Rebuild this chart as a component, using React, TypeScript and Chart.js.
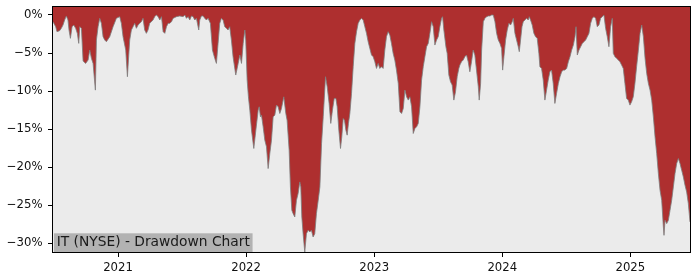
import React, { useEffect, useRef } from "react";
import { Chart, registerables } from "chart.js";

Chart.register(...registerables);

// Drawdown series: [decimal year, drawdown %]
const drawdownSeries: [number, number][] = [
  [2020.492,-0.88],[2020.513,-1.54],[2020.523,-2.19],[2020.544,-2.06],[2020.557,-1.75],[2020.570,-1.32],[2020.583,-0.66],[2020.596,-0.13],[2020.609,-0.66],[2020.617,-1.97],[2020.628,-3.07],[2020.641,-1.54],[2020.654,-1.32],[2020.669,-1.75],[2020.682,-2.41],[2020.693,-3.73],[2020.701,-1.54],[2020.714,-1.75],[2020.727,-6.05],[2020.747,-6.36],[2020.766,-5.92],[2020.779,-4.61],[2020.792,-5.70],[2020.805,-6.36],[2020.823,-9.87],[2020.831,-3.29],[2020.844,-1.54],[2020.857,-0.44],[2020.870,-1.10],[2020.883,-2.85],[2020.896,-3.29],[2020.909,-3.51],[2020.935,-2.85],[2020.961,-1.54],[2020.987,-0.44],
  [2021.013,-0.22],[2021.026,-1.10],[2021.039,-2.85],[2021.060,-4.61],[2021.073,-8.11],[2021.081,-5.92],[2021.091,-3.29],[2021.104,-1.97],[2021.117,-1.54],[2021.130,-1.10],[2021.143,-1.75],[2021.156,-1.32],[2021.169,-1.10],[2021.182,-0.88],[2021.195,-0.44],[2021.208,-1.97],[2021.221,-2.41],[2021.234,-1.97],[2021.247,-1.10],[2021.273,-0.66],[2021.286,-0.22],[2021.299,0],[2021.313,-0.22],[2021.326,-0.66],[2021.339,-0.22],[2021.352,-2.19],[2021.365,-2.41],[2021.378,-1.54],[2021.391,-1.10],[2021.404,-1.10],[2021.417,-0.88],[2021.430,-0.44],[2021.456,-0.22],[2021.482,-0.13],[2021.508,-0.22],[2021.521,0],[2021.534,-0.44],[2021.547,-0.22],[2021.560,-0.66],[2021.573,-0.13],[2021.586,-0.22],[2021.599,-0.66],[2021.612,-0.44],[2021.630,-1.97],[2021.638,-0.66],[2021.651,-0.13],[2021.664,-0.13],[2021.677,-0.44],[2021.690,-0.66],[2021.703,-0.44],[2021.721,-1.10],[2021.737,-4.61],[2021.755,-5.70],[2021.768,-6.36],[2021.781,-3.73],[2021.794,-1.10],[2021.807,-0.44],[2021.820,-0.66],[2021.833,-1.54],[2021.846,-1.75],[2021.859,-1.97],
  [2021.872,-1.54],[2021.885,-3.29],[2021.898,-5.48],[2021.919,-7.89],[2021.938,-6.36],[2021.951,-5.26],[2021.964,-6.36],[2021.977,-3.73],[2021.990,-1.97],[2021.997,-3.29],
  [2022.008,-8.55],[2022.018,-10.75],[2022.029,-12.50],[2022.042,-15.13],[2022.060,-17.54],[2022.076,-15.13],[2022.094,-12.50],[2022.102,-12.06],[2022.112,-13.38],[2022.120,-13.16],[2022.133,-14.69],[2022.146,-16.45],[2022.159,-17.32],[2022.172,-20.18],[2022.185,-18.20],[2022.198,-16.45],[2022.211,-13.38],[2022.224,-13.16],[2022.237,-11.84],[2022.250,-12.06],[2022.263,-12.94],[2022.276,-12.28],[2022.294,-10.75],[2022.310,-12.94],[2022.320,-13.82],[2022.336,-17.76],[2022.346,-22.59],[2022.357,-25.66],[2022.367,-26.10],[2022.380,-26.54],[2022.393,-24.34],[2022.406,-23.46],[2022.419,-21.93],[2022.427,-22.59],[2022.435,-26.54],[2022.445,-28.73],[2022.458,-31.14],[2022.471,-28.73],[2022.484,-28.29],[2022.497,-28.51],[2022.510,-28.29],[2022.523,-29.17],[2022.536,-28.73],[2022.549,-26.10],[2022.563,-24.34],[2022.576,-22.59],[2022.589,-16.89],[2022.602,-13.38],[2022.620,-8.11],[2022.633,-9.43],[2022.648,-11.62],[2022.661,-14.25],[2022.674,-12.50],[2022.688,-10.96],[2022.701,-10.96],[2022.711,-12.06],[2022.724,-15.13],[2022.737,-17.54],[2022.747,-16.01],[2022.758,-13.60],[2022.768,-13.82],[2022.779,-15.13],[2022.789,-15.79],[2022.799,-14.25],[2022.810,-12.94],[2022.823,-10.31],[2022.836,-6.80],[2022.849,-3.73],[2022.862,-2.19],[2022.875,-1.10],[2022.888,-0.66],[2022.901,-0.44],[2022.914,-0.66],[2022.927,-1.54],[2022.940,-2.41],[2022.953,-3.51],[2022.966,-4.39],[2022.979,-5.26],[2022.992,-5.48],
  [2023.005,-6.14],[2023.018,-7.02],[2023.031,-6.36],[2023.044,-7.02],[2023.057,-6.80],[2023.070,-7.02],[2023.083,-4.61],[2023.096,-2.85],[2023.109,-2.19],[2023.122,-2.63],[2023.135,-3.73],[2023.148,-5.04],[2023.161,-5.92],[2023.174,-7.24],[2023.188,-8.99],[2023.201,-12.72],[2023.214,-12.94],[2023.227,-12.28],[2023.240,-9.87],[2023.253,-10.75],[2023.266,-11.18],[2023.279,-10.75],[2023.292,-12.06],[2023.305,-15.57],[2023.318,-14.91],[2023.331,-14.69],[2023.344,-14.25],[2023.357,-12.06],[2023.370,-8.55],[2023.383,-6.80],[2023.396,-5.48],[2023.409,-4.17],[2023.422,-3.73],[2023.435,-2.41],[2023.448,-0.88],[2023.461,-1.54],[2023.474,-3.95],[2023.487,-3.29],[2023.500,-2.85],[2023.513,-1.54],[2023.526,-0.44],[2023.534,-0.22],[2023.544,-1.97],[2023.560,-4.17],[2023.570,-5.04],[2023.583,-7.89],[2023.596,-8.77],[2023.609,-9.21],[2023.622,-11.18],[2023.635,-10.09],[2023.648,-8.11],[2023.661,-7.02],
  [2023.669,-6.58],[2023.682,-6.14],[2023.695,-5.92],[2023.708,-5.48],[2023.721,-5.26],[2023.734,-6.14],[2023.747,-7.46],[2023.760,-6.14],[2023.773,-4.61],[2023.786,-5.26],[2023.799,-7.24],[2023.813,-9.43],[2023.820,-11.18],[2023.831,-8.99],[2023.839,-4.61],[2023.852,-0.88],[2023.865,-0.44],[2023.878,-0.22],[2023.891,-0.13],[2023.904,-0.13],[2023.917,0],[2023.930,0],[2023.943,-0.88],[2023.956,-2.41],[2023.969,-3.29],[2023.982,-3.73],[2023.995,-4.39],
  [2024.003,-7.24],[2024.013,-5.48],[2024.026,-3.29],[2024.039,-1.97],[2024.052,-1.10],[2024.065,-1.32],[2024.078,-0.88],[2024.086,-0.44],[2024.099,-2.41],[2024.112,-3.29],[2024.125,-4.17],[2024.133,-4.82],[2024.143,-3.29],[2024.154,-1.54],[2024.164,-0.88],[2024.177,-0.66],[2024.190,-0.44],[2024.203,-0.66],[2024.211,-0.22],[2024.221,-0.66],[2024.234,-1.32],[2024.247,-2.41],[2024.260,-2.85],[2024.273,-3.07],[2024.286,-5.04],[2024.294,-6.80],[2024.307,-7.02],[2024.320,-8.55],[2024.333,-11.18],[2024.346,-9.87],[2024.359,-8.55],[2024.372,-7.46],[2024.385,-7.24],[2024.398,-8.99],[2024.411,-11.62],[2024.424,-10.31],[2024.438,-8.99],[2024.451,-8.11],[2024.464,-7.46],[2024.477,-7.24],[2024.490,-7.24],[2024.503,-7.02],[2024.516,-6.14],[2024.529,-5.48],[2024.542,-4.61],[2024.555,-3.95],[2024.568,-2.85],[2024.576,-1.54],[2024.586,-5.26],[2024.599,-4.61],[2024.612,-4.17],[2024.625,-3.73],[2024.638,-3.51],[2024.651,-3.29],[2024.664,-2.85],[2024.677,-2.41],[2024.690,-1.10],[2024.703,-0.44],[2024.716,-0.22],[2024.729,-0.44],[2024.742,-1.54],[2024.755,-1.32],[2024.768,-0.44],[2024.781,-0.22],[2024.794,0],[2024.807,-1.75],[2024.820,-2.85],[2024.833,-4.17],[2024.846,-1.54],[2024.859,-0.44],[2024.867,-5.04],[2024.880,-5.48],[2024.893,-5.70],[2024.906,-5.92],[2024.919,-6.14],[2024.932,-6.58],[2024.945,-7.02],[2024.958,-8.99],[2024.971,-10.96],[2024.984,-11.18],[2024.997,-11.84],
  [2025.010,-11.40],[2025.023,-10.75],[2025.036,-8.99],[2025.049,-6.80],[2025.063,-4.61],[2025.076,-2.41],[2025.089,-1.32],[2025.102,-2.85],[2025.115,-5.70],[2025.128,-7.68],[2025.141,-8.99],[2025.154,-9.87],[2025.167,-11.18],[2025.180,-13.38],[2025.193,-16.01],[2025.206,-18.20],[2025.219,-20.83],[2025.232,-23.03],[2025.245,-24.34],[2025.258,-27.85],[2025.263,-28.95],[2025.271,-26.97],[2025.284,-27.41],[2025.297,-26.97],[2025.310,-25.66],[2025.323,-24.34],[2025.336,-22.59],[2025.349,-20.83],[2025.362,-19.52],[2025.375,-18.86],[2025.388,-19.52],[2025.401,-20.39],[2025.414,-21.27],[2025.427,-22.37],[2025.440,-23.25],[2025.453,-24.78],[2025.466,-27.19],
];

const xTickYears = [2021, 2022, 2023, 2024, 2025];
const yTickValues = [0, -5, -10, -15, -20, -25, -30];
const xRange = [2020.492, 2025.466];
const yRange = [-31.14, 1.05];
const chartLabel = "IT (NYSE) - Drawdown Chart";

const FONT = "'DejaVu Sans', sans-serif";

const frame = {
  id: "frame",
  beforeDatasetsDraw(chart: any) {
    const { ctx, chartArea: a } = chart;
    ctx.save();
    ctx.fillStyle = "#ebebeb";
    ctx.fillRect(a.left, a.top, a.right - a.left, a.bottom - a.top);
    ctx.restore();
  },
  afterDatasetsDraw(chart: any) {
    const { ctx, chartArea: a } = chart;
    ctx.save();
    ctx.font = `13.8px ${FONT}`;
    const tw = ctx.measureText(chartLabel).width;
    const tx = a.left + 3.7;
    const boxTop = a.bottom - 18.7;
    ctx.fillStyle = "#b2b2b2";
    ctx.fillRect(a.left + 1, boxTop, tw + 5.4, a.bottom - boxTop);
    ctx.fillStyle = "#1a1a1a";
    ctx.textBaseline = "alphabetic";
    ctx.fillText(chartLabel, tx, a.bottom - 6);
    ctx.strokeStyle = "#000";
    ctx.lineWidth = 1;
    ctx.strokeRect(
      Math.round(a.left) - 0.5,
      Math.round(a.top) - 0.5,
      Math.round(a.right - a.left) + 1,
      Math.round(a.bottom - a.top) + 1
    );
    ctx.restore();
  },
};

export default function App() {
  const ref = useRef<HTMLCanvasElement | null>(null);
  useEffect(() => {
    document.body.style.margin = "0";
    const canvas = ref.current;
    if (!canvas) return;
    const chart = new Chart(canvas, {
      type: "line",
      data: {
        datasets: [
          {
            data: drawdownSeries.map(([x, y]) => ({ x, y })),
            fill: "end",
            backgroundColor: "#ae2f2f",
            borderColor: "rgba(125,125,125,0.8)",
            borderWidth: 1,
            pointRadius: 0,
            tension: 0,
          },
        ],
      },
      options: {
        animation: false,
        responsive: false,
        events: [],
        layout: { padding: { top: 7, right: 10, left: 0, bottom: 0 } },
        plugins: { legend: { display: false }, tooltip: { enabled: false } },
        scales: {
          x: {
            type: "linear",
            min: xRange[0],
            max: xRange[1],
            afterFit: (s: any) => {
              s.height = 28;
              s.paddingLeft = 0;
              s.paddingRight = 0;
            },
            afterBuildTicks: (s: any) => { s.ticks = xTickYears.map((v) => ({ value: v })); },
            border: { display: false },
            grid: { display: true, drawOnChartArea: false, drawTicks: true, tickLength: 5, color: "#000" },
            ticks: {
              color: "#111",
              padding: 4,
              maxRotation: 0,
              font: { family: FONT, size: 11.7 },
              callback: (v: any) => String(v),
            },
          },
          y: {
            min: yRange[0],
            max: yRange[1],
            afterFit: (s: any) => {
              s.width = 53;
              s.paddingTop = 0;
              s.paddingBottom = 0;
            },
            afterBuildTicks: (s: any) => { s.ticks = yTickValues.map((v) => ({ value: v })); },
            border: { display: false },
            grid: { display: true, drawOnChartArea: false, drawTicks: true, tickLength: 5, color: "#000" },
            ticks: {
              color: "#111",
              padding: 5.5,
              font: { family: FONT, size: 11.7 },
              callback: (v: any) => (v < 0 ? "\u2212" + Math.abs(v) : String(v)) + "%",
            },
          },
        },
      },
      plugins: [frame],
    });
    return () => chart.destroy();
  }, []);
  return (
    <div style={{ width: 700, height: 280 }}>
      <canvas ref={ref} width={700} height={280} style={{ display: "block" }} />
    </div>
  );
}
